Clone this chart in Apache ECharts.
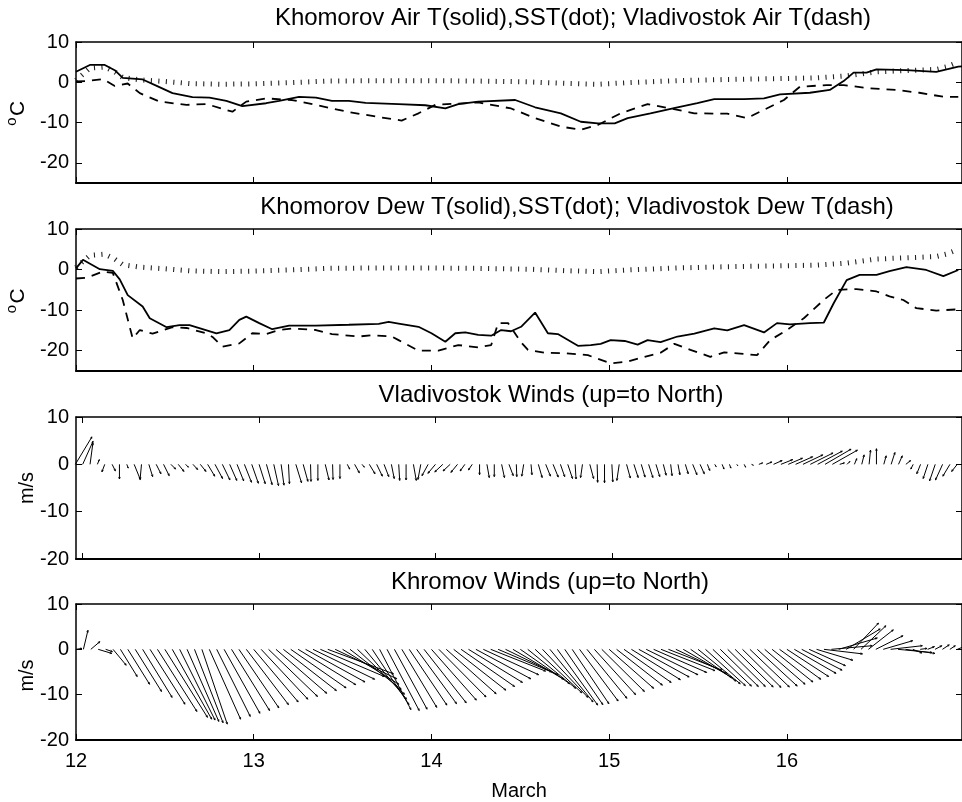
<!DOCTYPE html>
<html><head><meta charset="utf-8">
<script src="https://cdn.jsdelivr.net/npm/echarts@6/dist/echarts.min.js"></script>
<style>html,body{margin:0;padding:0;background:#fff}#c{width:962px;height:802px}</style>
</head><body><div id="c"></div>
<script>
// ---------- Panel 1: air temperature (day of March, degC) ----------
const airKhT = [12.000,12.078,12.162,12.218,12.263,12.375,12.454,12.543,12.655,12.751,12.846,12.936,13.070,13.143,13.255,13.350,13.440,13.535,13.630,13.815,13.966,14.078,14.151,14.263,14.471,14.583,14.728,14.840,14.936,15.031,15.104,15.232,15.384,15.496,15.591,15.759,15.871,15.961,16.129,16.241,16.319,16.375,16.448,16.504,16.672,16.840,16.964,17.0];
const airKh  = [2.6,4.3,4.3,3.0,1.1,0.7,-0.9,-2.7,-3.7,-3.8,-4.6,-5.9,-5.2,-4.6,-3.6,-3.8,-4.6,-4.6,-5.1,-5.4,-5.7,-6.5,-5.4,-4.8,-4.4,-6.2,-7.7,-9.8,-10.2,-10.2,-8.9,-7.7,-6.2,-5.2,-4.2,-4.2,-4.0,-3.0,-2.6,-1.9,0.3,2.4,2.4,3.2,3.0,2.6,3.9,4.0];
const airVlT = [12.000,12.062,12.151,12.218,12.291,12.359,12.471,12.622,12.734,12.880,12.958,13.070,13.216,13.350,13.535,13.686,13.832,13.927,14.022,14.263,14.448,14.583,14.728,14.840,14.936,15.064,15.216,15.345,15.479,15.664,15.776,15.849,15.983,16.073,16.224,16.319,16.465,16.616,16.745,16.880,16.964];
const airVl  = [0.2,0.3,0.8,-0.9,-0.3,-2.7,-4.8,-5.6,-5.4,-7.3,-4.8,-4.0,-4.4,-5.6,-7.4,-8.5,-9.5,-7.7,-5.6,-5.0,-6.5,-8.9,-11.0,-11.8,-10.6,-7.7,-5.4,-6.5,-7.7,-7.8,-8.9,-7.3,-4.4,-1.1,-0.7,-0.7,-1.5,-1.9,-2.6,-3.6,-3.6];
const sstT   = [12.000,12.078,12.162,12.218,12.263,12.359,12.499,12.639,12.807,12.975,13.199,13.423,13.703,13.983,14.263,14.543,14.768,14.936,15.104,15.384,15.664,15.944,16.168,16.336,16.504,16.672,16.840,16.896,16.964];
const sst    = [0.5,3.5,3.8,2.6,1.2,0.6,0.2,-0.3,-0.5,-0.4,-0.1,0.3,0.4,0.4,0.3,0.1,-0.3,-0.5,-0.1,0.4,0.7,0.9,1.1,1.6,2.6,2.9,3.2,3.8,5.0];

// ---------- Panel 2: dew-point temperature ----------
const dewKhT = [12.000,12.039,12.134,12.207,12.246,12.291,12.375,12.415,12.510,12.583,12.639,12.790,12.863,12.919,12.958,13.031,13.104,13.199,13.350,13.535,13.703,13.759,13.815,13.927,14.000,14.078,14.134,14.190,14.263,14.336,14.392,14.448,14.504,14.583,14.655,14.711,14.824,14.896,14.952,15.008,15.087,15.160,15.216,15.289,15.384,15.479,15.591,15.664,15.759,15.871,15.944,16.017,16.129,16.207,16.263,16.336,16.409,16.504,16.577,16.672,16.784,16.880,16.964];
const dewKh  = [0.3,2.4,0.1,-0.3,-2.4,-6.3,-9.1,-12.0,-14.2,-13.7,-13.7,-15.7,-14.9,-12.4,-11.6,-13.2,-14.7,-13.8,-13.8,-13.6,-13.4,-12.9,-13.3,-14.1,-15.7,-17.8,-15.7,-15.5,-16.1,-16.3,-14.9,-15.2,-14.1,-10.6,-15.7,-15.9,-18.8,-18.6,-18.3,-17.4,-17.6,-18.5,-17.4,-17.9,-16.5,-15.8,-14.5,-15.0,-13.7,-15.5,-13.2,-13.5,-13.2,-13.1,-8.3,-2.6,-1.3,-1.3,-0.4,0.6,-0.1,-1.6,-0.1];
const dewVlT = [12.000,12.062,12.151,12.207,12.263,12.319,12.359,12.431,12.543,12.622,12.734,12.768,12.824,12.919,12.992,13.070,13.143,13.216,13.350,13.440,13.591,13.664,13.776,13.815,13.927,14.039,14.151,14.263,14.336,14.375,14.431,14.504,14.543,14.639,14.751,14.880,15.008,15.104,15.199,15.289,15.367,15.457,15.569,15.647,15.737,15.832,15.905,16.000,16.095,16.207,16.280,16.392,16.504,16.577,16.655,16.728,16.840,16.964];
const dewVl  = [-2.2,-2.0,-0.5,-0.8,-7.5,-17.0,-14.9,-15.8,-14.2,-14.4,-15.7,-16.6,-19.0,-18.2,-15.7,-15.9,-14.9,-14.5,-14.9,-15.9,-16.5,-16.2,-16.5,-17.4,-20.0,-20.0,-18.6,-19.2,-18.6,-13.2,-13.2,-17.9,-19.8,-20.5,-20.6,-21.1,-23.1,-22.7,-21.5,-20.5,-18.3,-19.8,-21.5,-20.4,-20.7,-21.1,-17.4,-14.9,-12.0,-7.5,-5.0,-4.8,-5.4,-6.6,-7.5,-9.5,-10.1,-9.8];

// ---------- Panels 3/4: hourly winds (u east, v north; m/s) ----------
const vlStart = 11 + 23/24, khStart = 12, hourStep = 1/24;
const vlU = [3.5,2.2,0.6,0.4,-0.6,0.7,0.0,0.3,1.3,-0.3,0.8,1.0,1.2,1.0,1.2,0.6,1.0,1.2,1.5,1.6,1.6,1.5,1.4,1.5,1.4,1.3,1.2,1.0,0.6,0.2,1.2,1.0,0.1,0.0,0.8,0.1,0.0,0.5,1.0,0.5,1.2,1.2,1.0,0.6,0.2,0.0,0.6,-0.6,-1.3,-1.6,-1.7,-1.5,-1.4,-1.0,-0.8,0.0,0.5,0.0,0.6,0.9,0.1,-0.4,0.2,0.8,1.0,1.1,0.9,1.0,0.2,-0.4,0.8,0.1,0.0,0.2,-0.5,0.8,0.9,0.8,0.9,0.8,0.6,0.3,0.4,0.6,0.9,0.9,0.5,0.3,0.4,0.3,0.2,0.3,0.4,0.8,1.2,1.8,2.5,3.0,3.6,4.2,4.8,5.2,5.5,5.3,1.0,0.6,0.5,0.5,0.3,0.0,0.5,0.8,0.8,1.0,-0.5,-0.8,-1.0,-1.2,-1.5,-1.5,-1.2];
const vlV = [5.8,4.9,4.5,1.0,-1.6,-1.4,-3.1,-0.8,-3.2,-3.2,-2.6,-2.0,-2.4,-1.0,-1.5,-0.6,-1.1,-1.5,-2.5,-3.0,-3.3,-3.4,-3.5,-3.8,-4.0,-4.1,-4.3,-4.5,-4.4,-4.1,-3.9,-3.6,-3.6,-3.4,-3.3,-3.2,-3.0,-1.0,-1.8,-0.6,-2.0,-2.5,-2.6,-3.0,-3.4,-3.3,-3.4,-3.2,-2.4,-1.9,-1.6,-1.4,-1.7,-1.4,-1.2,-2.2,-2.8,-2.6,-2.8,-2.4,-2.6,-2.5,-2.2,-2.8,-2.5,-2.7,-2.6,-3.0,-3.1,-2.8,-3.0,-3.8,-3.9,-3.7,-3.4,-2.9,-2.8,-2.7,-2.8,-2.6,-2.3,-2.4,-2.2,-2.0,-2.2,-2.0,-1.3,-0.5,-1.0,-0.8,-0.3,-0.6,-0.2,0.3,0.5,0.8,1.0,1.3,1.6,2.0,2.4,2.8,3.2,3.0,0.3,0.6,1.2,2.0,3.0,3.3,1.8,2.5,1.8,0.8,-1.0,-2.0,-3.0,-3.5,-3.3,-2.5,-1.5];
const khU = [1.3,1.0,2.0,3.0,1.5,2.9,3.7,4.8,5.8,6.5,7.7,8.7,9.4,8.7,7.8,7.0,6.3,5.6,6.9,7.4,7.9,8.4,8.8,9.3,9.8,10.3,10.8,11.2,11.7,12.2,12.7,13.1,13.6,14.1,14.5,13.6,12.4,11.3,10.4,9.2,8.1,6.9,7.1,7.2,7.7,8.3,8.8,9.3,9.9,10.4,11.0,11.5,11.8,11.9,12.1,12.2,12.1,11.8,11.5,11.2,10.9,10.6,10.3,10.0,9.5,8.9,8.4,8.1,8.5,8.8,9.1,9.4,9.8,10.1,10.4,10.8,11.1,11.4,11.7,11.9,11.8,11.2,10.7,10.0,9.3,8.8,8.5,8.4,8.3,8.4,8.5,8.7,8.8,8.9,9.0,9.1,9.2,9.2,8.9,8.0,8.0,8.5,9.0,8.5,7.5,5.5,5.5,5.5,6.0,6.5,7.0,7.5,6.5,2.0,1.5,1.5,1.5,1.5,1.2,1.5,1.5];
const khV = [0.2,4.2,1.7,-0.9,-0.5,-3.5,-6.0,-7.7,-9.3,-10.6,-12.1,-13.7,-15.0,-15.4,-15.6,-15.9,-16.2,-16.5,-15.4,-14.8,-14.1,-13.5,-12.9,-12.2,-11.6,-11.0,-10.4,-9.7,-9.1,-8.5,-7.8,-7.2,-6.6,-6.0,-5.4,-6.5,-7.7,-8.8,-9.9,-11.0,-12.2,-13.3,-13.5,-13.2,-12.8,-12.3,-12.0,-11.8,-11.2,-10.5,-9.8,-9.0,-8.2,-7.3,-6.5,-5.6,-4.8,-5.0,-5.6,-6.6,-7.6,-8.6,-9.6,-10.6,-11.6,-12.3,-12.2,-12.0,-11.4,-10.8,-10.0,-9.3,-8.6,-7.9,-7.3,-6.7,-6.1,-5.6,-5.1,-4.7,-4.6,-5.3,-6.2,-7.0,-7.6,-8.0,-8.1,-8.2,-8.2,-8.3,-8.4,-8.3,-8.1,-7.7,-7.2,-6.6,-6.0,-5.3,-4.6,-3.6,-2.4,-1.0,0.8,2.5,4.5,5.8,5.2,4.3,3.0,1.9,0.8,-0.7,-0.9,-0.8,0.2,0.6,0.8,1.0,0.8,0.6,-0.4];

// ---------- Axes text ----------
const titles = [
  'Khomorov Air T(solid),SST(dot); Vladivostok Air T(dash)',
  'Khomorov Dew T(solid),SST(dot); Vladivostok Dew T(dash)',
  'Vladivostok Winds (up=to North)',
  'Khromov Winds (up=to North)'
];
const xTicks = [12, 13, 14, 15, 16];
const tempTicks = [-20, -10, 0, 10];
const windTicks = [-20, -10, 0, 10];
const xLabel = 'March';

// ---------- layout ----------
const FONT = '"Liberation Sans", Arial, Helvetica, sans-serif';
const panels = [
  {top: 42, height: 141, xmin: 12, xmax: 16.985, ymin: -25, ymax: 10, yt: tempTicks, tc: 573, ty: 18},
  {top: 229, height: 142, xmin: 12, xmax: 16.985, ymin: -25, ymax: 10, yt: tempTicks, tc: 577, ty: 207},
  {top: 417, height: 142, xmin: 11.962, xmax: 16.985, ymin: -20, ymax: 10, yt: windTicks, tc: 551, ty: 395},
  {top: 604, height: 143, xmin: 12, xmax: 16.985, ymin: -20, ymax: 10, yt: windTicks, tc: 550, ty: 582}
];
const LEFT = 76, WIDTH = 890;
const axisLineX = {show: true, onZero: false, lineStyle: {color: '#000', width: 2}};
const axisLineY = {show: true, onZero: false, lineStyle: {color: '#000', width: 1.5}};
const tick = vals => ({show: true, inside: true, length: 6, customValues: vals, lineStyle: {color: '#000', width: 1}});

const grid = [], xAxis = [], yAxis = [], series = [], graphic = [];
panels.forEach((p, i) => {
  grid.push({left: LEFT, top: p.top, width: WIDTH, height: p.height, containLabel: false});
  const last = i === panels.length - 1;
  xAxis.push({type: 'value', gridIndex: i, min: p.xmin, max: p.xmax, position: 'bottom',
    axisLine: axisLineX, splitLine: {show: false}, axisTick: tick(xTicks),
    axisLabel: {show: last, customValues: xTicks, color: '#000', fontSize: 20, fontFamily: FONT, margin: 11},
    name: last ? xLabel : '', nameLocation: 'middle', nameGap: 41,
    nameTextStyle: {color: '#000', fontSize: 20, fontFamily: FONT}});
  xAxis.push({type: 'value', gridIndex: i, min: p.xmin, max: p.xmax, position: 'top',
    axisLine: axisLineY, splitLine: {show: false}, axisTick: tick(xTicks), axisLabel: {show: false}});
  yAxis.push({type: 'value', gridIndex: i, min: p.ymin, max: p.ymax, position: 'left',
    axisLine: axisLineY, splitLine: {show: false}, axisTick: tick(p.yt),
    axisLabel: {show: true, customValues: p.yt, color: '#000', fontSize: 20, fontFamily: FONT, margin: 7}});
  yAxis.push({type: 'value', gridIndex: i, min: p.ymin, max: p.ymax, position: 'right',
    axisLine: axisLineY, splitLine: {show: false}, axisTick: tick(p.yt), axisLabel: {show: false}});
  graphic.push({type: 'text', x: p.tc, y: p.ty, style: {text: titles[i], align: 'center', verticalAlign: 'middle',
    font: '24px ' + FONT, fill: '#000'}});
});

function pairs(t, v) { return t.map((x, k) => [x, v[k]]); }
function lineSeries(gi, t, v, style) {
  return {type: 'line', xAxisIndex: 2 * gi, yAxisIndex: 2 * gi, data: pairs(t, v), showSymbol: false, symbol: 'none',
    lineStyle: Object.assign({color: '#000'}, style), silent: true, animation: false, z: 3};
}
const solid = {width: 1.8, type: 'solid'};
const dashed = {width: 1.8, type: [9, 7], cap: 'butt'};
const dotted = {width: 5, type: [1.1, 6.4], cap: 'butt', color: '#222'};
series.push(lineSeries(0, sstT, sst, dotted), lineSeries(0, airVlT, airVl, dashed), lineSeries(0, airKhT, airKh, solid));
series.push(lineSeries(1, sstT, sst, dotted), lineSeries(1, dewVlT, dewVl, dashed), lineSeries(1, dewKhT, dewKh, solid));

function stickSeries(gi, start, us, vs) {
  const data = us.map((u, k) => [start + k * hourStep, u, vs[k]]);
  return {type: 'custom', xAxisIndex: 2 * gi, yAxisIndex: 2 * gi, data, encode: {x: 0, y: 2}, clip: false,
    silent: true, animation: false,
    renderItem: function (params, api) {
      const t = api.value(0), u = api.value(1), v = api.value(2);
      const p0 = api.coord([t, 0]);
      const p1 = api.coord([t, v]);
      const k = api.size([0, 1])[1]; // pixels per m/s (same scale for both components)
      const x2 = p0[0] + u * k, y2 = p1[1];
      const dx = x2 - p0[0], dy = y2 - p0[1];
      const len = Math.sqrt(dx * dx + dy * dy) || 1;
      const h = Math.min(2.2, len * 0.3), ux = dx / len, uy = dy / len;
      const c = Math.cos(0.4), s = Math.sin(0.4);
      const a1 = [x2 - h * (ux * c - uy * s), y2 - h * (uy * c + ux * s)];
      const a2 = [x2 - h * (ux * c + uy * s), y2 - h * (uy * c - ux * s)];
      return {type: 'group', children: [
        {type: 'line', shape: {x1: p0[0], y1: p0[1], x2, y2}, style: {stroke: '#000', lineWidth: 1}},
        {type: 'polyline', shape: {points: [a1, [x2, y2], a2]}, style: {stroke: '#000', lineWidth: 0.8, fill: null}}
      ]};
    }};
}
series.push(stickSeries(2, vlStart, vlU, vlV));
series.push(stickSeries(3, khStart, khU, khV));

// y-axis names
function yName(cx, cy, parts) {
  return {type: 'group', x: cx, y: cy, rotation: Math.PI / 2, children: parts};
}
[0, 1].forEach(i => {
  const p = panels[i];
  graphic.push(yName(18, p.top + p.height / 2, [
    {type: 'text', x: -9, y: -6, style: {text: 'o', align: 'center', verticalAlign: 'middle', font: '15px ' + FONT, fill: '#000'}},
    {type: 'text', x: 4, y: 0, style: {text: 'C', align: 'center', verticalAlign: 'middle', font: '21px ' + FONT, fill: '#000'}}
  ]));
});
[2, 3].forEach(i => {
  const p = panels[i];
  graphic.push(yName(27, p.top + p.height / 2, [
    {type: 'text', x: 0, y: 0, style: {text: 'm/s', align: 'center', verticalAlign: 'middle', font: '20px ' + FONT, fill: '#000'}}
  ]));
});

const chart = echarts.init(document.getElementById('c'), null, {renderer: 'canvas'});
chart.setOption({animation: false, backgroundColor: '#fff', grid, xAxis, yAxis, series, graphic});
</script></body></html>
